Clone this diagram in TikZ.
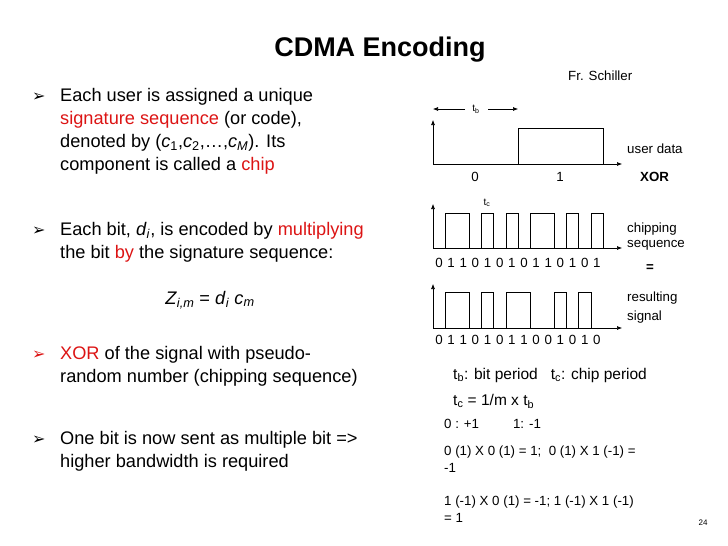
\documentclass[tikz,border=0pt]{standalone}
\usepackage{fontspec}
\setmainfont{Liberation Sans}
\newfontfamily\dv{DejaVu Sans}
\usetikzlibrary{arrows.meta}
\definecolor{rd}{RGB}{220,20,20}
\tikzset{
 big/.style={font=\fontsize{18.2}{21}\selectfont,anchor=west,inner sep=0pt},
 med/.style={font=\fontsize{15.5}{18}\selectfont,anchor=west,inner sep=0pt},
 sm/.style={font=\fontsize{13.3}{15}\selectfont,anchor=west,inner sep=0pt},
 ax/.style={line width=0.6pt,-{Latex[length=5pt,width=4pt]}},
 sig/.style={line width=0.7pt},
}
\newcommand{\bul}{{\dv\bfseries\fontsize{16}{18}\selectfont ➢}}
\begin{document}
\begin{tikzpicture}[x=1pt,y=-1pt]
\useasboundingbox (0,0) rectangle (728,546);
\node[font=\bfseries\fontsize{27}{30}\selectfont] (title) at (380,50) {CDMA Encoding};
\node[sm] (fr) at (568,76) {Fr. Schiller};
% left bullets
\node[big] (b1) at (32,97) {\bul};
\node[big] (l1) at (60,97) {Each user is assigned a unique};
\node[big] (l2) at (60,120) {\textcolor{rd}{signature sequence} (or code),};
\node[big] (l3) at (60,143) {denoted by (\textit{c}\textsubscript{1},\textit{c}\textsubscript{2},\dots,\textit{c}\textsubscript{\textit{M}}). Its};
\node[big] (l4) at (60,166) {component is called a \textcolor{rd}{chip}};
\node[big] (b2) at (32,231) {\bul};
\node[big] (l5) at (60,231) {Each bit, \textit{d}\textsubscript{\textit{i}}, is encoded by \textcolor{rd}{multiplying}};
\node[big] (l6) at (60,254) {the bit \textcolor{rd}{by} the signature sequence:};
\node[big,anchor=center] (z) at (210,300) {\textit{Z}\textsubscript{\textit{i,m}} = \textit{d}\textsubscript{\textit{i}} \textit{c}\textsubscript{\textit{m}}};
\node[big] (b3) at (32,355) {\textcolor{rd}{\bul}};
\node[big] (l7) at (60,355) {\textcolor{rd}{XOR} of the signal with pseudo-};
\node[big] (l8) at (60,378) {random number (chipping sequence)};
\node[big] (b4) at (32,440) {\bul};
\node[big] (l9) at (60,440) {One bit is now sent as multiple bit =>};
\node[big] (l10) at (60,463) {higher bandwidth is required};
% user data
\coordinate (o1) at (433,164);
\draw[ax] (o1) -- (433,120);
\draw[ax] (o1) -- (622,164);
\draw[sig] (518,164) -- (518,128) -- (603,128) -- (603,164);
\node[font=\fontsize{10}{12}\selectfont,inner sep=1pt] (tb) at (476,109) {t\textsubscript{b}};
\draw[line width=0.6pt,-{Latex[length=5pt,width=4pt]}] (465,109) -- (433,109);
\draw[line width=0.6pt,-{Latex[length=5pt,width=4pt]}] (488,109) -- (518,109);
\node[sm,anchor=center] (d0) at (475,177) {0};
\node[sm,anchor=center] (d1) at (560,177) {1};
\node[sm] (ud) at (627,149) {user data};
\node[sm,font=\bfseries\fontsize{13.3}{15}\selectfont] (xor) at (640,177) {XOR};
% chipping
\def\cw{12.143}
\coordinate (o2) at (433,248);
\draw[ax] (o2) -- (433,204);
\draw[ax] (o2) -- (622,248);
\foreach \a/\b in {1/3,4/5,6/7,8/10,11/12,13/14}
  \draw[sig] (433+\a*\cw,248) -- (433+\a*\cw,213) -- (433+\b*\cw,213) -- (433+\b*\cw,248);
\node[font=\fontsize{10}{12}\selectfont,inner sep=1pt] (tc) at (487,203) {t\textsubscript{c}};
\foreach \v [count=\i from 0] in {0,1,1,0,1,0,1,0,1,1,0,1,0,1}
  \node[sm,anchor=center] at (439+\i*\cw,263) {\v};
\node[sm] (cs1) at (627,229) {chipping};
\node[sm] (cs2) at (627,245) {sequence};
\node[sm,font=\bfseries\fontsize{13.3}{15}\selectfont] (eq) at (646,268) {=};
% resulting
\coordinate (o3) at (433,328);
\draw[ax] (o3) -- (433,284);
\draw[ax] (o3) -- (622,328);
\foreach \a/\b in {1/3,4/5,6/8,10/11,12/13}
  \draw[sig] (433+\a*\cw,328) -- (433+\a*\cw,292) -- (433+\b*\cw,292) -- (433+\b*\cw,328);
\foreach \v [count=\i from 0] in {0,1,1,0,1,0,1,1,0,0,1,0,1,0}
  \node[sm,anchor=center] at (439+\i*\cw,340) {\v};
\node[sm] (rs1) at (627,298) {resulting};
\node[sm] (rs2) at (627,317) {signal};
% bottom text
\node[med] (p1) at (453,375) {t\textsubscript{b}: bit period \ \ t\textsubscript{c}: chip period};
\node[med] (p2) at (453,401) {t\textsubscript{c} = 1/m x t\textsubscript{b}};
\node[sm] (p3) at (444,424) {0 : +1 \qquad\ 1: -1};
\node[sm] (p4) at (444,452) {0 (1) X 0 (1) = 1; \ 0 (1) X 1 (-1) =};
\node[sm] (p5) at (444,468) {-1};
\node[sm] (p6) at (444,502) {1 (-1) X 0 (1) = -1; 1 (-1) X 1 (-1)};
\node[sm] (p7) at (444,518) {= 1};
\node[font=\fontsize{8}{10}\selectfont] (pg) at (703,523) {24};
\end{tikzpicture}
\end{document}
